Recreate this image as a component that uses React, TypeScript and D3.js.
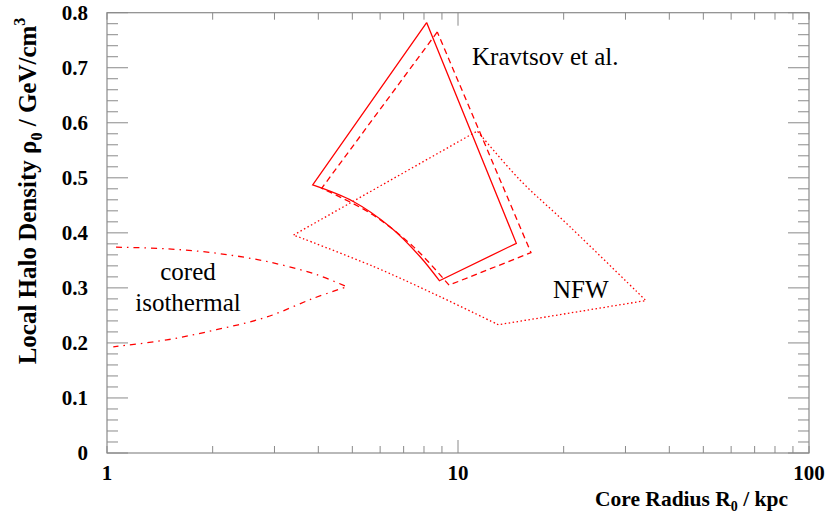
import React, { useEffect, useRef } from 'react';
import * as d3 from 'd3';

// Kravtsov et al. allowed region (solid), core radius [kpc] vs local density [GeV/cm^3]
const kravtsovSolidR = [8.14, 3.855, 5.03, 6.4, 7.79, 8.85, 14.66];
const kravtsovSolidRho = [0.782, 0.487, 0.457, 0.411, 0.357, 0.313, 0.381];
const kravtsovSolidCorners = [0, 1, 5, 6];

// Kravtsov et al. (dashed)
const kravtsovDashR = [8.73, 4.09, 5.61, 7.46, 9.43, 16.14];
const kravtsovDashRho = [0.765, 0.481, 0.436, 0.375, 0.305, 0.364];
const kravtsovDashCorners = [0, 1, 4, 5];

// NFW (dotted)
const nfwR = [3.4, 11.35, 15.02, 20.85, 34.3, 13.03, 8.89, 5.74];
const nfwRho = [0.396, 0.585, 0.496, 0.411, 0.277, 0.233, 0.284, 0.339];
const nfwCorners = [0, 1, 4, 5];

// cored isothermal (dash-dot), open curve
const isoR = [1.061, 1.48, 2.05, 2.85, 3.96, 4.82, 3.87, 2.85, 2.05, 1.48, 1.042];
const isoRho = [0.374, 0.371, 0.363, 0.348, 0.324, 0.302, 0.281, 0.247, 0.224, 0.2055, 0.193];
const isoCorners = [0, 5, 10];

const yTicks = [0, 0.1, 0.2, 0.3, 0.4, 0.5, 0.6, 0.7, 0.8];
const xTickLabels = [1, 10, 100];

const App = () => {
  const ref = useRef<SVGSVGElement>(null);

  useEffect(() => {
    const left = 107, right = 809, top = 12.7, bottom = 453;

    const svg = d3.select(ref.current);
    svg.selectAll('*').remove();

    const x = d3.scaleLog().domain([1, 100]).range([left, right]);
    const y = d3.scaleLinear().domain([0, 0.8]).range([bottom, top]);

    const axisCol = '#8a8a8a';
    const red = '#ff0000';
    const font = '"Liberation Serif", "Times New Roman", serif';

    const g = svg.append('g');

    // y ticks (left and right, inward)
    const yMinor = d3.range(0, 0.8001, 0.02);
    yMinor.forEach((v, i) => {
      const len = i % 5 === 0 ? 21 : 11;
      g.append('line').attr('x1', left).attr('x2', left + len)
        .attr('y1', y(v)).attr('y2', y(v)).attr('stroke', axisCol);
      g.append('line').attr('x1', right).attr('x2', right - len)
        .attr('y1', y(v)).attr('y2', y(v)).attr('stroke', axisCol);
    });

    // x ticks (bottom and top, inward)
    const xt: number[] = [];
    [1, 10].forEach(d => { for (let k = 1; k <= 9; k++) xt.push(d * k); });
    xt.push(100);
    xt.forEach(v => {
      const len = v === 10 ? 13 : 7;
      g.append('line').attr('x1', x(v)).attr('x2', x(v))
        .attr('y1', bottom).attr('y2', bottom - len).attr('stroke', axisCol);
      g.append('line').attr('x1', x(v)).attr('x2', x(v))
        .attr('y1', top).attr('y2', top + len).attr('stroke', axisCol);
    });

    // frame
    g.append('rect').attr('x', left).attr('y', top)
      .attr('width', right - left).attr('height', bottom - top)
      .attr('fill', 'none').attr('stroke', axisCol).attr('stroke-width', 1.2);

    // tick labels
    g.selectAll('.ytl').data(yTicks).enter().append('text')
      .attr('x', 88).attr('y', d => y(d) + 7)
      .attr('text-anchor', 'end')
      .attr('font-family', font).attr('font-weight', 'bold').attr('font-size', 21)
      .text(d => (d === 0 ? '0' : d3.format('.1f')(d)));

    g.selectAll('.xtl').data(xTickLabels).enter().append('text')
      .attr('x', d => x(d)).attr('y', 480)
      .attr('text-anchor', 'middle')
      .attr('font-family', font).attr('font-weight', 'bold').attr('font-size', 21)
      .text(d => d);

    // axis titles
    const xt2 = g.append('text').attr('x', 788).attr('y', 506)
      .attr('text-anchor', 'end')
      .attr('font-family', font).attr('font-weight', 'bold').attr('font-size', 21.5);
    xt2.append('tspan').text('Core Radius R');
    xt2.append('tspan').attr('font-size', 14).attr('dy', 5).text('0');
    xt2.append('tspan').attr('dy', -5).text(' / kpc');

    const yt = g.append('text')
      .attr('transform', `translate(36, 191) rotate(-90)`)
      .attr('text-anchor', 'middle')
      .attr('font-family', font).attr('font-weight', 'bold').attr('font-size', 25);
    yt.append('tspan').text('Local Halo Density ρ');
    yt.append('tspan').attr('font-size', 16).attr('dy', 6).text('0');
    yt.append('tspan').attr('dy', -6).text('  / GeV/cm');
    yt.append('tspan').attr('font-size', 16).attr('dy', -11).text('3');

    // curves: smooth between corners, sharp at the corners
    const line = d3.line<[number, number]>()
      .x(d => x(d[0])).y(d => y(d[1]))
      .curve(d3.curveCatmullRom.alpha(0.5));

    const draw = (rs: number[], rhos: number[], corners: number[], dash: string | null, closed: boolean) => {
      const pts = rs.map((r, i) => [r, rhos[i]] as [number, number]);
      const idx = closed ? [...corners, pts.length] : corners;
      if (closed) pts.push(pts[0]);
      let d = '';
      for (let k = 0; k < idx.length - 1; k++) {
        const seg = pts.slice(idx[k], idx[k + 1] + 1);
        const s = line(seg) || '';
        d += k === 0 ? s : s.replace(/^M[^A-Za-z]*/, '');
      }
      g.append('path').attr('d', d)
        .attr('fill', 'none').attr('stroke', red).attr('stroke-width', 1.3)
        .attr('stroke-linejoin', 'miter')
        .attr('stroke-dasharray', dash);
    };

    draw(kravtsovSolidR, kravtsovSolidRho, kravtsovSolidCorners, null, true);
    draw(kravtsovDashR, kravtsovDashRho, kravtsovDashCorners, '6,4', true);
    draw(nfwR, nfwRho, nfwCorners, '1.5,2.5', true);
    draw(isoR, isoRho, isoCorners, '6,5,1.5,5', false);

    // annotations
    const ann = (txt: string, ax: number, ay: number, anchor = 'start') =>
      g.append('text').attr('x', ax).attr('y', ay).attr('text-anchor', anchor)
        .attr('font-family', font).attr('font-size', 25).text(txt);
    ann('Kravtsov et al.', 472, 65);
    ann('NFW', 553, 298);
    ann('cored', 188, 280, 'middle');
    ann('isothermal', 188, 311, 'middle');

    return () => { svg.selectAll('*').remove(); };
  }, []);

  return (
    <svg ref={ref} width={830} height={516}
      style={{ position: 'absolute', left: 0, top: 0, background: '#fff' }} />
  );
};

export default App;
